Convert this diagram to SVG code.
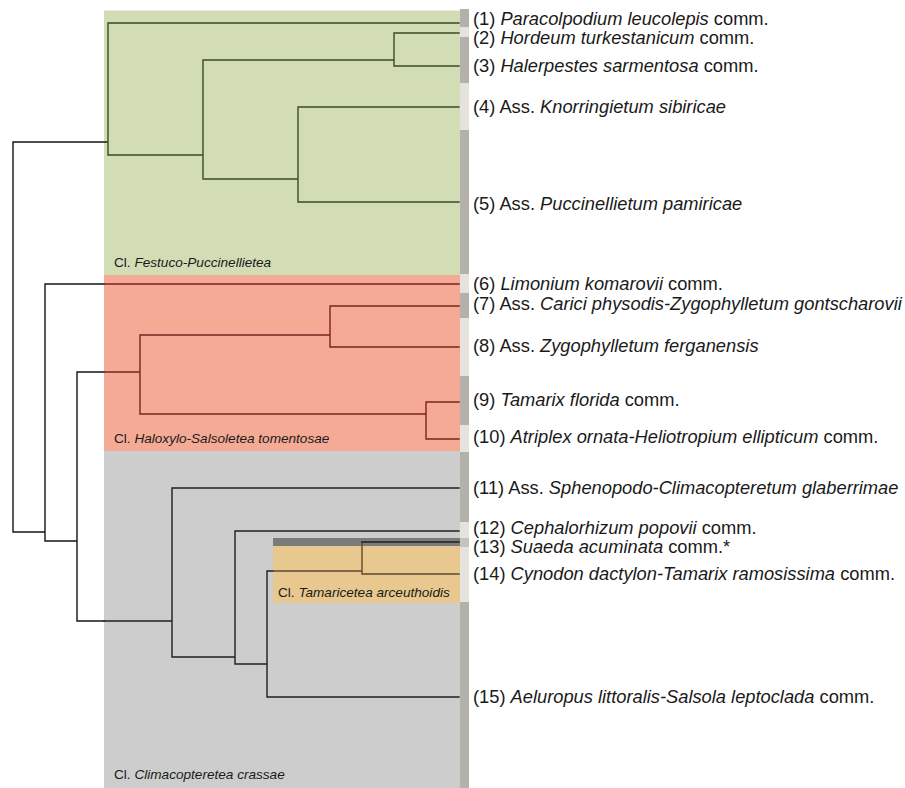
<svg xmlns="http://www.w3.org/2000/svg" width="905" height="788" viewBox="0 0 905 788">
<style>
.lbl{font-family:"Liberation Sans",Arial,sans-serif;font-size:18.3px;fill:#1a1a1a}
.cl{font-family:"Liberation Sans",Arial,sans-serif;font-size:13.6px;fill:#1a1a1a}
.it{font-style:italic}
.ln{fill:none;stroke-width:1.4;stroke-linecap:square}
.k{stroke:#141414}
.g{stroke:#3c4a2b}
.r{stroke:#7a2320}
.d{stroke:#1f1f1f}
.o{stroke:#5a4a30}
.dk{fill:#b4b1ab}
.lt{fill:#e6e3de}
</style>
<rect width="905" height="788" fill="#ffffff"/>
<g id="backgrounds">
<rect x="104" y="10.5" width="356" height="264.5" fill="#d3ddb5"/>
<rect x="104" y="275" width="356" height="176" fill="#f5aa96"/>
<rect x="104" y="451" width="356" height="337" fill="#cdcdcd"/>
<rect x="273" y="546" width="187" height="57" fill="#e9c88f"/>
<rect x="273" y="538" width="187" height="8" fill="#7b7b7b"/>
</g>
<g id="bar">
<rect class="dk" x="460" y="9" width="9" height="18"/>
<rect class="lt" x="460" y="27" width="9" height="10"/>
<rect class="dk" x="460" y="37" width="9" height="46"/>
<rect class="lt" x="460" y="83" width="9" height="47"/>
<rect class="dk" x="460" y="130" width="9" height="144"/>
<rect class="lt" x="460" y="274" width="9" height="19"/>
<rect class="dk" x="460" y="293" width="9" height="25"/>
<rect class="lt" x="460" y="318" width="9" height="58"/>
<rect class="dk" x="460" y="376" width="9" height="49"/>
<rect class="lt" x="460" y="425" width="9" height="27"/>
<rect class="dk" x="460" y="452" width="9" height="70"/>
<rect class="lt" x="460" y="522" width="9" height="16"/>
<rect x="460" y="538" width="9" height="9" fill="#c6c3bd"/>
<rect class="lt" x="460" y="547" width="9" height="55"/>
<rect class="dk" x="460" y="602" width="9" height="186"/>
</g>
<g id="connectors">
<path class="ln k" d="M13 142V532M13 142H106M13 532H45M45 284V541M45 284H104M45 541H77M77 372V621M77 372H104M77 621H104"/>
<path class="ln g" d="M108 23V155M108 23H459M106 142H108M108 155H203M203 60V179M203 60H394M394 33V66M394 33H459M394 66H459M203 179H298M298 107V202M298 107H459M298 202H459"/>
<path class="ln r" d="M104 284H459M104 372H140M140 335V414M140 335H330M330 306V347M330 306H459M330 347H459M140 414H426M426 402V439M426 402H459M426 439H459"/>
<path class="ln d" d="M104 621H172M172 488V657M172 488H459M172 657H235M235 531V664M235 531H459M235 664H267M267 571V697M267 697H459M267 571H273"/>
<path class="ln o" d="M273 571H362M362 542V574M362 574H459"/>
<path class="ln d" d="M362 542H459"/>
</g>
<g id="class-labels">
<text class="cl" x="114" y="267">Cl. <tspan class="it">Festuco-Puccinellietea</tspan></text>
<text class="cl" x="114" y="443">Cl. <tspan class="it">Haloxylo-Salsoletea tomentosae</tspan></text>
<text class="cl" x="278" y="597">Cl. <tspan class="it">Tamaricetea arceuthoidis</tspan></text>
<text class="cl" x="114" y="779">Cl. <tspan class="it">Climacopteretea crassae</tspan></text>
</g>
<g id="n1"><text class="lbl" x="473" y="25">(1) <tspan class="it">Paracolpodium leucolepis</tspan> comm.</text></g>
<g id="n2"><text class="lbl" x="473" y="44">(2) <tspan class="it">Hordeum turkestanicum</tspan> comm.</text></g>
<g id="n3"><text class="lbl" x="473" y="72">(3) <tspan class="it">Halerpestes sarmentosa</tspan> comm.</text></g>
<g id="n4"><text class="lbl" x="473" y="113">(4) Ass. <tspan class="it">Knorringietum sibiricae</tspan></text></g>
<g id="n5"><text class="lbl" x="473" y="210">(5) Ass. <tspan class="it">Puccinellietum pamiricae</tspan></text></g>
<g id="n6"><text class="lbl" x="473" y="290">(6) <tspan class="it">Limonium komarovii</tspan> comm.</text></g>
<g id="n7"><text class="lbl" x="473" y="310">(7) Ass. <tspan class="it">Carici physodis-Zygophylletum gontscharovii</tspan></text></g>
<g id="n8"><text class="lbl" x="473" y="352">(8) Ass. <tspan class="it">Zygophylletum ferganensis</tspan></text></g>
<g id="n9"><text class="lbl" x="473" y="406">(9) <tspan class="it">Tamarix florida</tspan> comm.</text></g>
<g id="n10"><text class="lbl" x="473" y="443">(10) <tspan class="it">Atriplex ornata-Heliotropium ellipticum</tspan> comm.</text></g>
<g id="n11"><text class="lbl" x="473" y="494">(11) Ass. <tspan class="it">Sphenopodo-Climacopteretum glaberrimae</tspan></text></g>
<g id="n12"><text class="lbl" x="473" y="534">(12) <tspan class="it">Cephalorhizum popovii</tspan> comm.</text></g>
<g id="n13"><text class="lbl" x="473" y="553">(13) <tspan class="it">Suaeda acuminata</tspan> comm.*</text></g>
<g id="n14"><text class="lbl" x="473" y="580">(14) <tspan class="it">Cynodon dactylon-Tamarix ramosissima</tspan> comm.</text></g>
<g id="n15"><text class="lbl" x="473" y="703">(15) <tspan class="it">Aeluropus littoralis-Salsola leptoclada</tspan> comm.</text></g>
</svg>
